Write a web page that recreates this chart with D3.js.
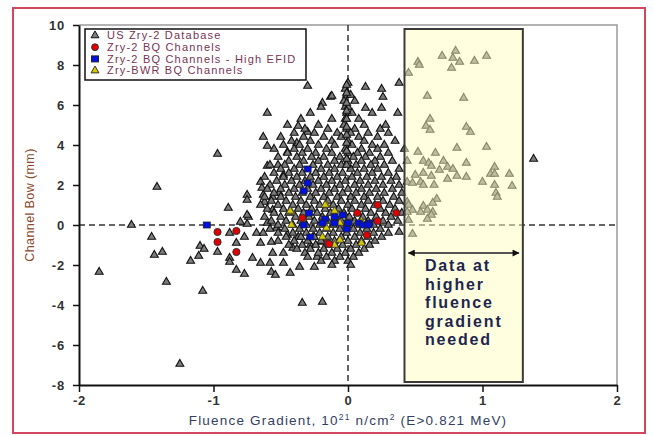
<!DOCTYPE html>
<html>
<head>
<meta charset="utf-8">
<script src="https://cdn.jsdelivr.net/npm/d3@7"></script>
<style>
  body { margin: 0; background: #fff; }
  svg { display: block; font-family: "Liberation Sans", Arial, sans-serif; }
</style>
</head>
<body>
<svg width="653" height="436"></svg>
<script>
// ---- data ----
var xTicks = [-2, -1, 0, 1, 2];
var yTicks = [-8, -6, -4, -2, 0, 2, 4, 6, 8, 10];

var seriesNames = ["US Zry-2 Database", "Zry-2 BQ Channels", "Zry-2 BQ Channels - High EFID", "Zry-BWR BQ Channels"];

// scattered database points outside the dense core
var dbOuter = [
  [-1.85,-2.35],[-1.61,0],[-1.46,-0.6],[-1.44,-1.5],[-1.38,-1.35],[-1.35,-2.85],[-1.42,1.9],
  [-1.25,-6.95],[-1.17,-1.8],[-1.11,-1.55],[-1.10,-1.05],[-1.07,-1.2],[-1.08,-3.3],[-0.97,3.55],
  [-0.97,-1.35],[-0.88,-1.65],[-0.88,-1.85],[-0.83,-2.25],[-0.77,-2.45],[-0.71,-1.65],
  [-0.65,-1.9],[-0.58,-1.9],[-0.48,-1.9],[-0.57,-2.35],[-0.54,-2.5],[-0.43,-2.4],[-0.36,-2.1],
  [-0.25,-2.1],[-0.34,-3.9],[-0.19,-3.85],[-0.75,0.05],[-0.80,0.15],[-0.74,0.4],[-0.88,-0.4],
  [-0.83,-0.9],[-0.77,-0.6],[-0.68,-0.4],[-0.63,-0.4],[-0.65,-0.9],[-0.57,-0.85],[-0.56,-1.4],
  [-0.48,-1.4],[-0.41,-1.15],[-0.28,-1.0],[-0.23,-1.6],[-0.60,0.1],[-0.53,-0.15],[-0.45,-0.5],
  [-0.37,-0.6],[-0.26,-0.6],[-0.19,-0.85],[-0.89,0.85],[-0.75,0.5],[-0.56,0.75],[-0.51,1.6],
  [-0.75,1.5],[-0.63,1.5],[-0.75,1.25],[-0.62,1.15],[-0.56,1.4],[-0.65,2.15],[-0.64,1.85],
  [-0.48,2.5],[-0.52,3.0],[-0.60,2.95],[-0.45,3.65],[-0.37,4.95],[-0.30,4.65],[-0.38,4.1],
  [-0.60,5.6],[-0.63,4.4],[-0.60,3.95],[-0.30,6.95],[-0.19,6.1],[-0.13,6.4],
  [0.0,7.1],[0.13,6.9],[0.25,6.8],[0.26,6.4],[-0.12,6.45],[0.13,5.85],[0.25,5.85],[0.37,5.6],
  [0.24,4.8],[0.38,7.1],[0.38,-0.35],[0.48,-0.45],[1.38,3.3]
];

// database points in the dense core
var dbCore = [
  [-0.02,6.8],[-0.01,6.5],[0.02,6.5],[-0.03,6.2],[0.05,6.2],[-0.02,5.9],[-0.2,5.9],[0.0,5.9],
  [-0.01,5.6],[-0.28,5.6],[0.18,5.6],[0.03,5.6],[-0.02,5.3],[-0.12,5.3],[0.08,5.3],[-0.35,5.3],
  [-0.03,5.0],[-0.22,5.0],[-0.45,5.0],[0.12,5.0],[0.28,5.0],[-0.01,4.8],[-0.15,4.8],[0.05,4.8],[-0.32,4.8],
  [-0.4,4.6],[-0.25,4.6],[-0.08,4.6],[0.02,4.6],[0.15,4.6],[0.3,4.6],
  [-0.5,4.4],[-0.33,4.4],[-0.18,4.4],[-0.05,4.4],[0.08,4.4],[0.22,4.4],
  [-0.42,4.2],[-0.28,4.2],[-0.12,4.2],[0.0,4.2],[0.12,4.2],[0.35,4.2],
  [-0.48,4.0],[-0.36,4.0],[-0.22,4.0],[-0.1,4.0],[0.03,4.0],[0.18,4.0],[0.27,4.0],
  [-0.55,3.8],[-0.4,3.8],[-0.3,3.8],[-0.16,3.8],[-0.02,3.8],[0.1,3.8],[0.22,3.8],
  [-0.45,3.6],[-0.34,3.6],[-0.24,3.6],[-0.12,3.6],[0.0,3.6],[0.07,3.6],[0.16,3.6],[0.3,3.6],
  [-0.52,3.4],[-0.38,3.4],[-0.27,3.4],[-0.18,3.4],[-0.06,3.4],[0.04,3.4],[0.13,3.4],[0.24,3.4],
  [-0.44,3.2],[-0.33,3.2],[-0.22,3.2],[-0.1,3.2],[0.0,3.2],[0.1,3.2],[0.2,3.2],[0.33,3.2],
  [-0.58,3.0],[-0.47,3.0],[-0.36,3.0],[-0.26,3.0],[-0.15,3.0],[-0.05,3.0],[0.06,3.0],[0.17,3.0],[0.27,3.0],
  [-0.5,2.8],[-0.4,2.8],[-0.2,2.8],[-0.1,2.8],[0.02,2.8],[0.12,2.8],[0.22,2.8],[0.38,2.8],
  [-0.55,2.6],[-0.44,2.6],[-0.34,2.6],[-0.24,2.6],[-0.14,2.6],[-0.04,2.6],[0.07,2.6],[0.18,2.6],[0.3,2.6],
  [-0.62,2.4],[-0.48,2.4],[-0.38,2.4],[-0.28,2.4],[-0.18,2.4],[-0.08,2.4],[0.03,2.4],[0.14,2.4],[0.25,2.4],[0.36,2.4],
  [-0.53,2.2],[-0.42,2.2],[-0.32,2.2],[-0.22,2.2],[-0.12,2.2],[-0.02,2.2],[0.09,2.2],[0.2,2.2],[0.32,2.2],
  [-0.58,2.0],[-0.47,2.0],[-0.36,2.0],[-0.26,2.0],[-0.16,2.0],[-0.06,2.0],[0.05,2.0],[0.15,2.0],[0.26,2.0],[0.38,2.0],
  [-0.6,1.8],[-0.5,1.8],[-0.4,1.8],[-0.3,1.8],[-0.2,1.8],[-0.1,1.8],[0.0,1.8],[0.1,1.8],[0.21,1.8],[0.33,1.8],
  [-0.55,1.6],[-0.44,1.6],[-0.34,1.6],[-0.24,1.6],[-0.14,1.6],[-0.04,1.6],[0.06,1.6],[0.16,1.6],[0.27,1.6],[0.4,1.6],
  [-0.62,1.4],[-0.5,1.4],[-0.39,1.4],[-0.28,1.4],[-0.18,1.4],[-0.08,1.4],[0.02,1.4],[0.12,1.4],[0.22,1.4],[0.34,1.4],
  [-0.57,1.2],[-0.46,1.2],[-0.35,1.2],[-0.25,1.2],[-0.15,1.2],[-0.05,1.2],[0.05,1.2],[0.15,1.2],[0.26,1.2],[0.38,1.2],
  [-0.65,1.0],[-0.52,1.0],[-0.41,1.0],[-0.31,1.0],[-0.21,1.0],[-0.11,1.0],[0.0,1.0],[0.1,1.0],[0.2,1.0],[0.31,1.0],
  [-0.6,0.8],[-0.48,0.8],[-0.37,0.8],[-0.27,0.8],[-0.17,0.8],[-0.07,0.8],[0.03,0.8],[0.13,0.8],[0.24,0.8],[0.35,0.8],
  [-0.55,0.6],[-0.44,0.6],[-0.33,0.6],[-0.23,0.6],[-0.13,0.6],[-0.03,0.6],[0.07,0.6],[0.17,0.6],[0.28,0.6],[0.4,0.6],
  [-0.62,0.4],[-0.5,0.4],[-0.39,0.4],[-0.29,0.4],[-0.19,0.4],[-0.09,0.4],[0.01,0.4],[0.11,0.4],[0.21,0.4],[0.32,0.4],
  [-0.57,0.2],[-0.46,0.2],[-0.35,0.2],[-0.25,0.2],[-0.15,0.2],[-0.05,0.2],[0.05,0.2],[0.15,0.2],[0.26,0.2],[0.37,0.2],
  [-0.52,0.0],[-0.41,0.0],[-0.31,0.0],[-0.21,0.0],[-0.11,0.0],[-0.01,0.0],[0.09,0.0],[0.19,0.0],[0.3,0.0],
  [-0.58,-0.2],[-0.47,-0.2],[-0.36,-0.2],[-0.26,-0.2],[-0.16,-0.2],[-0.06,-0.2],[0.04,-0.2],[0.14,-0.2],[0.24,-0.2],
  [-0.52,-0.4],[-0.41,-0.4],[-0.31,-0.4],[-0.21,-0.4],[-0.11,-0.4],[-0.01,-0.4],[0.09,-0.4],[0.19,-0.4],[0.3,-0.4],
  [-0.46,-0.6],[-0.35,-0.6],[-0.25,-0.6],[-0.15,-0.6],[-0.05,-0.6],[0.05,-0.6],[0.15,-0.6],[0.25,-0.6],
  [-0.52,-0.8],[-0.4,-0.8],[-0.3,-0.8],[-0.2,-0.8],[-0.1,-0.8],[0.0,-0.8],[0.1,-0.8],[0.2,-0.8],
  [-0.44,-1.0],[-0.34,-1.0],[-0.24,-1.0],[-0.14,-1.0],[-0.04,-1.0],[0.06,-1.0],[0.16,-1.0],
  [-0.38,-1.2],[-0.28,-1.2],[-0.18,-1.2],[-0.08,-1.2],[0.02,-1.2],[0.12,-1.2],
  [-0.32,-1.4],[-0.22,-1.4],[-0.12,-1.4],[-0.02,-1.4],[0.08,-1.4],
  [-0.3,-1.6],[-0.16,-1.6],[-0.06,-1.6],[0.04,-1.6],[-0.2,-1.8],[-0.1,-1.8],[0.0,-1.8],[-0.12,-2.0],[0.02,-2.0],
  [-0.01,3.0],[-0.01,3.3],[-0.01,3.7],[-0.01,4.1],[-0.01,4.5],[-0.01,4.9],[-0.01,5.3],[-0.01,5.7],[-0.01,6.1],[-0.01,6.6],[-0.01,7.0]
];

// database points inside the highlighted box
var dbHigh = [
  [0.52,8.15],[0.53,8.0],[0.45,7.6],[0.70,8.45],[0.80,8.7],[0.78,8.35],[0.83,8.15],[0.77,7.85],
  [0.94,8.2],[1.03,8.45],[0.59,6.45],[0.86,6.35],[0.61,5.3],[0.58,4.95],[0.61,4.75],[0.88,4.9],
  [0.91,4.65],[0.42,3.8],[0.52,3.65],[0.65,3.6],[0.81,3.85],[1.03,3.9],[0.44,3.2],[0.56,3.2],
  [0.60,3.1],[0.62,2.95],[0.71,3.2],[0.88,3.1],[0.74,2.9],[0.78,2.8],[0.68,2.75],[1.09,2.9],
  [0.50,2.5],[0.56,2.6],[0.62,2.45],[0.81,2.45],[0.88,2.4],[0.74,2.3],[1.06,2.55],[1.09,2.55],
  [1.20,2.55],[1.00,2.15],[0.44,2.15],[0.48,2.1],[0.54,2.15],[0.56,2.0],[0.64,2.0],[1.09,2.0],
  [1.22,1.95],[1.10,1.6],[1.11,1.4],[0.66,1.3],[0.44,1.15],[0.63,1.1],[0.45,1.0],[0.56,0.95],
  [0.48,0.75],[0.59,0.75],[0.63,0.65],[0.44,0.65],[0.54,0.65],[0.62,0.5],[0.59,0.3],[0.45,0.25]
];

var bqRed = [
  [-0.97,-0.35],[-0.97,-0.85],[-0.83,-0.3],[-0.83,-1.35],[-0.34,0.35],[-0.15,-0.9],
  [0.22,1.0],[0.07,0.6],[0.36,0.6],[0.22,0.2],[0.14,-0.5],[-0.14,-0.95]
];

var bqBlue = [
  [-1.05,0.0],[-0.30,2.8],[-0.30,2.1],[-0.33,1.7],[-0.29,0.6],[-0.04,0.5],[-0.17,0.3],[-0.10,0.4],
  [-0.19,0.1],[-0.10,0.1],[0.0,0.1],[0.08,0.1],[0.16,0.1],[-0.33,0.0],[-0.01,-0.2],[-0.28,-0.6],
  [0.11,0.0],[0.15,0.0]
];

var bwrYellow = [
  [-0.16,1.0],[-0.10,0.7],[-0.42,0.65],[-0.42,0.0],[-0.06,0.1],[-0.16,-0.15],[-0.19,-0.6],
  [-0.06,-0.75],[0.10,0.2],[0.10,-0.9],[-0.10,-1.0],[-0.43,0.7],[-0.17,1.0]
];

var boxX = [0.42, 1.3], boxY = [-7.85, 9.8];
var arrowY = -1.4;
var boxText = ["Data at", "higher", "fluence", "gradient", "needed"];

// ---- drawing ----
var svg = d3.select("svg");

var x = d3.scaleLinear().domain([-2, 2]).range([79, 617]);
var y = d3.scaleLinear().domain([-8, 10]).range([385, 25]);

// outer red frame
svg.append("rect")
    .attr("x", 13).attr("y", 8).attr("width", 632).attr("height", 425)
    .attr("fill", "none").attr("stroke", "#d2475f").attr("stroke-width", 2);

// grey top/right plot frame
svg.append("path")
    .attr("d", `M${x(-2)},${y(10)}H${x(2)}V${y(-8)}`)
    .attr("fill", "none").attr("stroke", "#9a9a9a").attr("stroke-width", 1.5);

// dashed zero lines
svg.append("line")
    .attr("x1", x(-2)).attr("x2", x(2)).attr("y1", y(0)).attr("y2", y(0))
    .attr("stroke", "#333").attr("stroke-width", 1.5).attr("stroke-dasharray", "6,4");
svg.append("line")
    .attr("x1", x(0)).attr("x2", x(0)).attr("y1", y(10)).attr("y2", y(-8))
    .attr("stroke", "#333").attr("stroke-width", 1.5).attr("stroke-dasharray", "6,4");

var tri = d3.symbol().type(d3.symbolTriangle).size(27);

var g = svg.append("g");

g.selectAll(".db")
    .data(dbOuter.concat(dbCore).concat(dbHigh))
    .enter().append("path")
    .attr("d", tri)
    .attr("transform", d => `translate(${x(d[0])},${y(d[1])})`)
    .attr("fill", "#7c7c7c").attr("stroke", "#111").attr("stroke-width", 1.1);

g.selectAll(".bwr")
    .data(bwrYellow)
    .enter().append("path")
    .attr("d", tri)
    .attr("transform", d => `translate(${x(d[0])},${y(d[1])})`)
    .attr("fill", "#d8c800").attr("stroke", "#333").attr("stroke-width", 0.8);

g.selectAll(".red")
    .data(bqRed)
    .enter().append("circle")
    .attr("cx", d => x(d[0])).attr("cy", d => y(d[1])).attr("r", 3.6)
    .attr("fill", "#e00000").attr("stroke", "#333").attr("stroke-width", 1);

g.selectAll(".blue")
    .data(bqBlue)
    .enter().append("rect")
    .attr("x", d => x(d[0]) - 3.5).attr("y", d => y(d[1]) - 3)
    .attr("width", 7).attr("height", 6)
    .attr("fill", "#0010e0").attr("stroke", "#222").attr("stroke-width", 0.8);

// highlighted region
svg.append("rect")
    .attr("x", x(boxX[0])).attr("y", y(boxY[1]))
    .attr("width", x(boxX[1]) - x(boxX[0])).attr("height", y(boxY[0]) - y(boxY[1]))
    .attr("fill", "#ffffc0").attr("fill-opacity", 0.5)
    .attr("stroke", "#3a3a3a").attr("stroke-width", 2);

// arrow
var defs = svg.append("defs");
defs.append("marker")
    .attr("id", "ah").attr("viewBox", "0 0 10 10").attr("refX", 9).attr("refY", 5)
    .attr("markerWidth", 4.5).attr("markerHeight", 3.5).attr("orient", "auto-start-reverse")
    .append("path").attr("d", "M0,0L10,5L0,10z").attr("fill", "#111");
svg.append("line")
    .attr("x1", x(boxX[0]) + 4).attr("x2", x(boxX[1]) - 4)
    .attr("y1", y(arrowY)).attr("y2", y(arrowY))
    .attr("stroke", "#555").attr("stroke-width", 2)
    .attr("marker-start", "url(#ah)").attr("marker-end", "url(#ah)");

svg.append("g").selectAll("text")
    .data(boxText)
    .enter().append("text")
    .attr("x", 425).attr("y", (d, i) => 271 + i * 18.5)
    .attr("font-size", 16).attr("font-weight", "bold").attr("letter-spacing", 1.8)
    .attr("fill", "#1d2550")
    .text(d => d);

// axes
var yAxis = svg.append("g")
    .attr("transform", `translate(${x(-2)},0)`)
    .call(d3.axisLeft(y).tickValues(yTicks).tickFormat(d => String(d))
        .tickSize(6).tickPadding(8).tickSizeOuter(0));
var xAxis = svg.append("g")
    .attr("transform", `translate(0,${y(-8)})`)
    .call(d3.axisBottom(x).tickValues(xTicks).tickFormat(d => String(d))
        .tickSize(7).tickPadding(4).tickSizeOuter(0));

[xAxis, yAxis].forEach(a => {
    a.select(".domain").attr("stroke", "#111").attr("stroke-width", 2);
    a.selectAll(".tick line").attr("stroke", "#111").attr("stroke-width", 1.5);
    a.selectAll(".tick text")
        .attr("font-family", "'Liberation Sans', Arial, sans-serif")
        .attr("font-size", 13).attr("font-weight", "bold").attr("letter-spacing", 0.8)
        .attr("fill", "#333");
});

// axis titles
svg.append("text")
    .attr("transform", "translate(34,205) rotate(-90)")
    .attr("text-anchor", "middle").attr("font-size", 12.5).attr("letter-spacing", 0.4)
    .attr("fill", "#8b4a2b")
    .text("Channel Bow (mm)");

var xl = svg.append("text")
    .attr("x", 348).attr("y", 425).attr("text-anchor", "middle")
    .attr("font-size", 13.5).attr("letter-spacing", 1.2).attr("fill", "#33415f");
xl.append("tspan").text("Fluence Gradient, 10");
xl.append("tspan").attr("dy", -5).attr("font-size", 8.5).text("21");
xl.append("tspan").attr("dy", 5).text(" n/cm");
xl.append("tspan").attr("dy", -5).attr("font-size", 8.5).text("2");
xl.append("tspan").attr("dy", 5).text(" (E>0.821 MeV)");

// legend
var legend = svg.append("g").attr("transform", "translate(85,29)");
legend.append("rect")
    .attr("width", 221).attr("height", 51)
    .attr("fill", "#fff").attr("stroke", "#111").attr("stroke-width", 1.5);

var items = legend.selectAll(".item")
    .data(seriesNames)
    .enter().append("g")
    .attr("transform", (d, i) => `translate(10,${6.5 + i * 11.7})`);

items.each(function(d, i) {
    var it = d3.select(this);
    if (i === 0) {
        it.append("path").attr("d", tri).attr("fill", "#7c7c7c").attr("stroke", "#111");
    } else if (i === 1) {
        it.append("circle").attr("r", 3.4).attr("fill", "#e00000").attr("stroke", "#333");
    } else if (i === 2) {
        it.append("rect").attr("x", -3.5).attr("y", -3).attr("width", 7).attr("height", 6)
            .attr("fill", "#0010e0").attr("stroke", "#222");
    } else {
        it.append("path").attr("d", tri).attr("fill", "#d8c800").attr("stroke", "#333");
    }
});

items.append("text")
    .attr("x", 12).attr("dy", "0.35em")
    .attr("font-size", 11).attr("letter-spacing", 1.2).attr("fill", "#7a3352")
    .text(d => d);
</script>
</body>
</html>
